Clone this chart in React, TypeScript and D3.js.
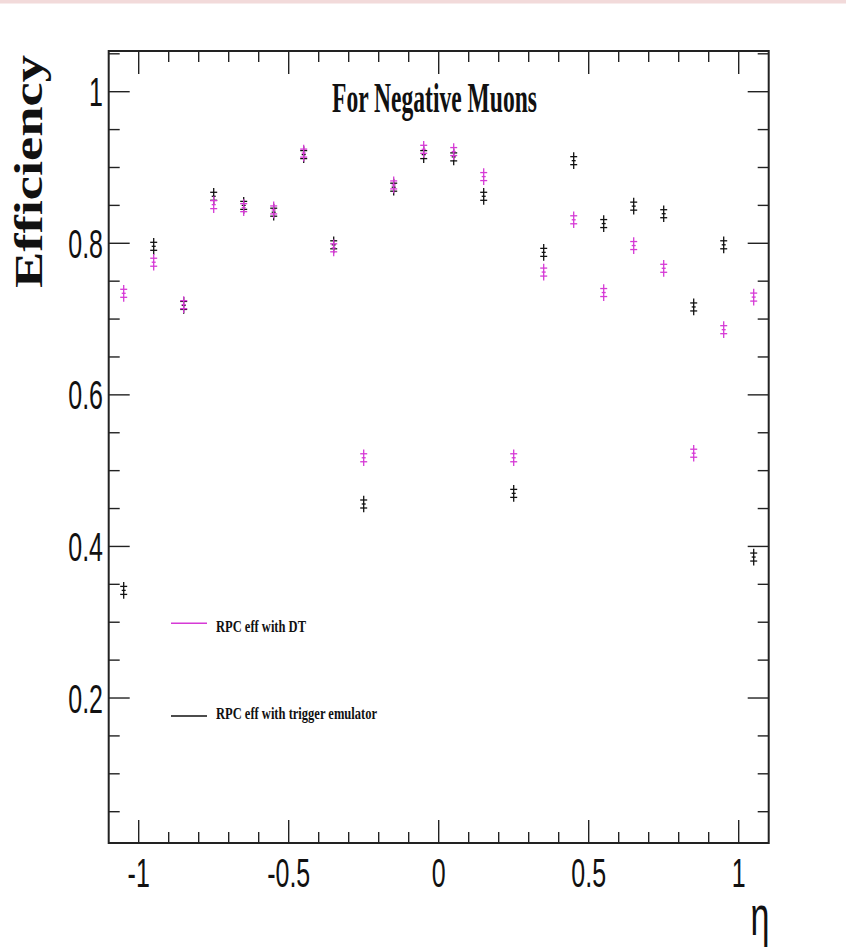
import React from "react";
import * as d3 from "d3";

const etaBins = [-1.05, -0.95, -0.85, -0.75, -0.65, -0.55, -0.45, -0.35, -0.25, -0.15, -0.05, 0.05, 0.15, 0.25, 0.35, 0.45, 0.55, 0.65, 0.75, 0.85, 0.95, 1.05];
const effDT = [0.734, 0.775, 0.719, 0.851, 0.847, 0.844, 0.919, 0.794, 0.517, 0.877, 0.924, 0.921, 0.888, 0.517, 0.762, 0.831, 0.735, 0.797, 0.767, 0.523, 0.686, 0.729];
const effTrig = [0.342, 0.796, 0.718, 0.862, 0.850, 0.841, 0.917, 0.798, 0.456, 0.874, 0.917, 0.914, 0.862, 0.470, 0.788, 0.909, 0.826, 0.849, 0.839, 0.716, 0.798, 0.386];
const errDT = 0.011;
const errTrig = 0.011;
const xTickLabels = ["-1", "-0.5", "0", "0.5", "1"];
const xTickValues = [-1, -0.5, 0, 0.5, 1];
const yTickLabels = ["0.2", "0.4", "0.6", "0.8", "1"];
const yTickValues = [0.2, 0.4, 0.6, 0.8, 1];
const legendLabels = ["RPC eff with DT", "RPC eff with trigger emulator"];
const titleText = "For Negative Muons";
const yTitle = "Efficiency";
const xTitle = "η";

const MAG = "#d63ad6";
const INK = "#111";

export default function App() {
  const L = 108.7, R = 768.7, T = 51, B = 843;
  const x = d3.scaleLinear().domain([-1.1, 1.1]).range([L, R]);
  const y = d3.scaleLinear().domain([0.0087, 1.0537]).range([B, T]);

  const xMinor = d3.range(-11, 12).map((i) => i / 10).filter((v) => v > -1.1 && v < 1.1);
  const yMinor = d3.range(1, 22).map((i) => i / 20).filter((v) => v > 0.0087 && v < 1.0537);
  const isMajorX = (v: number) => Math.abs(v * 2 - Math.round(v * 2)) < 1e-6;
  const isMajorY = (v: number) => Math.abs(v * 5 - Math.round(v * 5)) < 1e-6;

  const sx = 0.61;

  const point = (xv: number, v: number, e: number, color: string, key: string) => {
    const cx = x(xv);
    const cy = y(v);
    const y1 = y(v + e);
    const y2 = y(v - e);
    return (
      <g key={key} stroke={color} strokeWidth={1.3}>
        <line x1={cx} x2={cx} y1={y1} y2={y2} />
        <line x1={cx - 3.5} x2={cx + 3.5} y1={cy - 4} y2={cy - 4} />
        <line x1={cx - 3.5} x2={cx + 3.5} y1={cy + 4} y2={cy + 4} />
        <line x1={cx - 2} x2={cx + 2} y1={cy} y2={cy} />
      </g>
    );
  };

  return (
    <svg width={846} height={952} style={{ position: "absolute", left: 0, top: 0, background: "#fff" }}>
      <rect x={0} y={0} width={846} height={952} fill="#fff" />
      <rect x={0} y={0} width={846} height={3.5} fill="#f2dada" />

      {/* x ticks bottom and top */}
      <g stroke="#222" strokeWidth={1.4}>
        {xMinor.map((v, i) => {
          const len = isMajorX(v) ? 23 : 11;
          return (
            <g key={"xt" + i}>
              <line x1={x(v)} x2={x(v)} y1={B} y2={B - len} />
              <line x1={x(v)} x2={x(v)} y1={T} y2={T + len} />
            </g>
          );
        })}
        {yMinor.map((v, i) => {
          const len = isMajorY(v) ? 21 : 11;
          return (
            <g key={"yt" + i}>
              <line x1={L} x2={L + len} y1={y(v)} y2={y(v)} />
              <line x1={R} x2={R - len} y1={y(v)} y2={y(v)} />
            </g>
          );
        })}
      </g>
      <rect x={L} y={T} width={R - L} height={B - T} fill="none" stroke="#222" strokeWidth={2} />

      {/* x tick labels */}
      {xTickValues.map((v, i) => (
        <g key={"xl" + i} transform={`translate(${x(v)},887) scale(${sx},1)`}>
          <text textAnchor="middle" fontFamily="Liberation Sans, Arial, sans-serif" fontSize={41} fill={INK}>
            {xTickLabels[i]}
          </text>
        </g>
      ))}
      {/* y tick labels */}
      {yTickValues.map((v, i) => (
        <g key={"yl" + i} transform={`translate(103,${y(v) + 14.5}) scale(${sx},1)`}>
          <text textAnchor="end" fontFamily="Liberation Sans, Arial, sans-serif" fontSize={41} fill={INK}>
            {yTickLabels[i]}
          </text>
        </g>
      ))}

      {/* axis titles */}
      <g transform={`translate(760,935) scale(${sx},1)`}>
        <text textAnchor="middle" fontFamily="Liberation Sans, Arial, sans-serif" fontSize={56} fill={INK}>
          {xTitle}
        </text>
      </g>
      <text
        transform="translate(42,288) rotate(-90)"
        fontFamily="Liberation Serif, Times New Roman, serif"
        fontWeight="bold"
        fontSize={40}
        textLength={233}
        lengthAdjust="spacingAndGlyphs"
        fill={INK}
      >
        {yTitle}
      </text>

      {/* title */}
      <text
        x={332}
        y={112}
        fontFamily="Liberation Serif, Times New Roman, serif"
        fontWeight="bold"
        fontSize={43}
        textLength={205}
        lengthAdjust="spacingAndGlyphs"
        fill={INK}
      >
        {titleText}
      </text>

      {/* data */}
      {etaBins.map((e, i) => point(e, effTrig[i], errTrig, INK, "t" + i))}
      {etaBins.map((e, i) => point(e, effDT[i], errDT, MAG, "d" + i))}

      {/* legend */}
      <line x1={171} x2={207} y1={623.3} y2={623.3} stroke={MAG} strokeWidth={1.4} />
      <text x={216} y={632.3} fontFamily="Liberation Serif, Times New Roman, serif" fontWeight="bold" fontSize={16.5} textLength={90} lengthAdjust="spacingAndGlyphs" fill={INK}>
        {legendLabels[0]}
      </text>
      <line x1={171} x2={207} y1={716} y2={716} stroke={INK} strokeWidth={1.4} />
      <text x={216} y={719.3} fontFamily="Liberation Serif, Times New Roman, serif" fontWeight="bold" fontSize={16.5} textLength={161} lengthAdjust="spacingAndGlyphs" fill={INK}>
        {legendLabels[1]}
      </text>
    </svg>
  );
}
